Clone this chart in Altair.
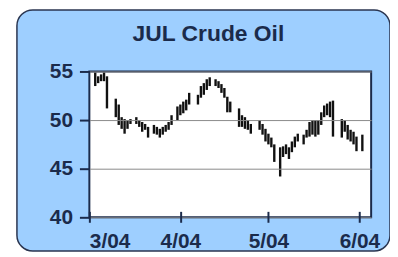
import altair as alt
import pandas as pd

title_text = "JUL Crude Oil"

dates = [
    "2004-03-03", "2004-03-04", "2004-03-05", "2004-03-06", "2004-03-07",
    "2004-03-10", "2004-03-11", "2004-03-12", "2004-03-13", "2004-03-14",
    "2004-03-15", "2004-03-17", "2004-03-18", "2004-03-19", "2004-03-20",
    "2004-03-21", "2004-03-23", "2004-03-24", "2004-03-25", "2004-03-26",
    "2004-03-27", "2004-03-28", "2004-03-29", "2004-03-31", "2004-04-01",
    "2004-04-02", "2004-04-03", "2004-04-04", "2004-04-07", "2004-04-08",
    "2004-04-09", "2004-04-10", "2004-04-11", "2004-04-13", "2004-04-14",
    "2004-04-15", "2004-04-16", "2004-04-17", "2004-04-18", "2004-04-21",
    "2004-04-22", "2004-04-23", "2004-04-24", "2004-04-25", "2004-04-28",
    "2004-04-29", "2004-04-30", "2004-05-01", "2004-05-02", "2004-05-03",
    "2004-05-05", "2004-05-06", "2004-05-07", "2004-05-08", "2004-05-09",
    "2004-05-10", "2004-05-11", "2004-05-13", "2004-05-14", "2004-05-15",
    "2004-05-16", "2004-05-17", "2004-05-18", "2004-05-19", "2004-05-20",
    "2004-05-21", "2004-05-22", "2004-05-23", "2004-05-26", "2004-05-27",
    "2004-05-28", "2004-05-29", "2004-05-30", "2004-05-31", "2004-06-02",
]
highs = [
    54.9, 54.5, 54.7, 54.9, 54.5,
    52.2, 51.6, 50.3, 50.1, 50.0,
    50.1, 50.3, 50.0, 49.8, 49.6,
    49.3, 49.5, 49.3, 49.1, 49.3,
    49.5, 49.8, 50.5, 51.4, 51.6,
    51.9, 52.1, 52.8, 52.6, 53.5,
    53.8, 54.2, 54.4, 54.2, 54.0,
    53.7, 53.3, 52.4, 51.9, 51.2,
    50.5, 50.3, 50.0, 49.6, 50.0,
    49.6, 49.1, 48.6, 48.2, 47.5,
    47.2, 47.3, 47.5, 47.2, 47.8,
    48.3, 48.6, 48.5, 49.0, 49.8,
    50.0, 50.0, 50.0, 50.8, 51.5,
    51.7, 51.9, 52.0, 50.1, 50.0,
    49.5, 49.0, 48.8, 48.3, 48.5,
]
lows = [
    53.5, 53.8, 54.0, 54.0, 51.2,
    50.3, 49.5, 49.1, 48.6, 49.1,
    49.6, 49.6, 49.3, 48.8, 49.0,
    48.2, 48.6, 48.5, 48.2, 48.5,
    48.8, 49.0, 49.5, 50.0, 50.5,
    50.7, 51.0, 51.6, 51.6, 52.3,
    52.6, 53.1, 53.5, 53.5, 53.3,
    52.8, 52.3, 50.8, 50.8, 49.3,
    49.3, 49.1, 49.0, 48.6, 49.0,
    48.5, 47.8, 47.5, 47.2, 45.7,
    44.2, 46.2, 46.5, 46.0, 46.7,
    47.2, 47.8, 47.5, 48.2, 48.3,
    48.5, 48.3, 48.5, 49.5, 50.3,
    50.5, 50.3, 48.3, 48.2, 48.8,
    48.0, 47.8, 47.5, 46.8, 46.8,
]
y_ticks = [40, 45, 50, 55]
x_tick_months = [3, 4, 5, 6]

NAVY = "#1B2B4B"
BLUE = "#9ECFFF"
FONT = "Liberation Sans"
W, H = 284, 147

df = pd.DataFrame({"date": dates, "high": highs, "low": lows})
one = pd.DataFrame({"k": [0]})
tdf = pd.DataFrame({"t": [title_text]})

x_scale = alt.Scale(
    type="utc",
    domain=[alt.DateTime(year=2004, month=3, date=1, utc=True),
            alt.DateTime(year=2004, month=6, date=5, utc=True)],
)
x_axis = alt.Axis(
    values=[alt.DateTime(year=2004, month=m, date=1, utc=True) for m in x_tick_months],
    labelExpr="utcFormat(datum.value, '%-m/%y')",
    tickSize=11, offset=-6, domain=False, grid=False,
    tickColor=NAVY, tickWidth=2,
    labelFont=FONT, labelFontSize=21, labelFontWeight="bold", labelColor=NAVY,
    labelPadding=8, zindex=1, title="",
)
y_axis = alt.Axis(
    values=y_ticks, tickSize=10, domain=False, grid=True,
    gridColor="#8a8a8a", gridWidth=1,
    tickColor=NAVY, tickWidth=2,
    labelFont=FONT, labelFontSize=21, labelFontWeight="bold", labelColor=NAVY,
    labelPadding=7, zindex=1, title="",
)

bg = alt.Chart(one).mark_rect(
    fill=BLUE, stroke="#2a3550", strokeWidth=1.5, cornerRadius=16
).encode(
    x=alt.value(-73), x2=alt.value(303), y=alt.value(-62), y2=alt.value(181)
)

plot_bg = alt.Chart(one).mark_rect(
    fill="white", stroke=NAVY, strokeWidth=2
).encode(
    x=alt.value(0), x2=alt.value(W), y=alt.value(0), y2=alt.value(H)
)

bars = alt.Chart(df).mark_rule(strokeWidth=2.4, color="#111111").encode(
    x=alt.X("date:T", scale=x_scale, axis=x_axis),
    y=alt.Y("high:Q", scale=alt.Scale(domain=[40, 55], nice=False), axis=y_axis),
    y2="low:Q",
)

title = alt.Chart(tdf).mark_text(
    font=FONT, fontSize=23, fontWeight="bold", color=NAVY,
    align="center", baseline="middle",
).encode(x=alt.value(120), y=alt.value(-38), text="t:N")

chart = alt.layer(bg, plot_bg, bars, title).properties(
    width=W, height=H,
    autosize=alt.AutoSizeParams(type="none"),
    padding={"left": 82, "top": 63, "right": 19, "bottom": 34},
    background="white",
).configure_view(strokeWidth=0)

chart.save("out.html", embed_options={"renderer": "svg", "actions": False})
